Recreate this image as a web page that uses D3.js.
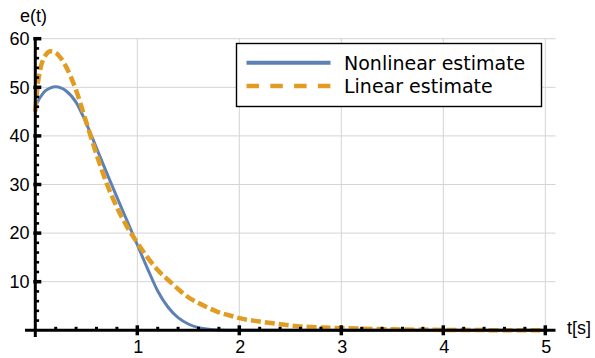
<!DOCTYPE html>
<html>
<head>
<meta charset="utf-8">
<script src="https://cdn.jsdelivr.net/npm/d3@7"></script>
<style>
  html, body { margin: 0; padding: 0; background: #fff; }
  svg { display: block; }
</style>
</head>
<body>
<svg id="chart" width="595" height="358"></svg>
<script>
// Time samples (s) and estimation error e(t) for each estimator
const nonlinearT = [0, 0.05, 0.1, 0.15, 0.2, 0.25, 0.3, 0.4, 0.5, 0.6, 0.7, 0.8, 0.9, 1.0, 1.1, 1.2, 1.3, 1.4, 1.5, 1.6, 1.7, 1.8, 1.9, 2.0, 3.0, 4.0, 5.0];
const nonlinearE = [46.0, 48.0, 49.3, 49.9, 50.1, 49.9, 49.3, 46.9, 42.6, 37.5, 32.4, 27.4, 22.5, 17.6, 12.7, 8.1, 4.8, 2.6, 1.3, 0.55, 0.2, 0.06, 0.02, 0, 0, 0, 0];

const linearT = [0, 0.025, 0.05, 0.1, 0.15, 0.2, 0.25, 0.3, 0.4, 0.5, 0.6, 0.7, 0.8, 0.9, 1.0, 1.1, 1.2, 1.3, 1.4, 1.5, 1.6, 1.7, 1.8, 1.9, 2.0, 2.2, 2.4, 2.6, 2.8, 3.0, 3.5, 4.0, 4.5, 5.0];
const linearE = [45.0, 50.8, 53.8, 56.6, 57.4, 57.1, 56.0, 54.3, 49.4, 42.8, 36.2, 30.2, 25.3, 21.3, 18.0, 15.0, 12.4, 10.4, 8.5, 6.8, 5.6, 4.6, 3.7, 3.1, 2.5, 1.8, 1.25, 0.8, 0.6, 0.45, 0.2, 0.08, 0.03, 0.01];

const xTicks = [1, 2, 3, 4, 5];
const yTicks = [10, 20, 30, 40, 50, 60];
const seriesNames = ["Nonlinear estimate", "Linear estimate"];

const blue = "#5e81b5", orange = "#e19c24";

const svg = d3.select("#chart");

const x = d3.scaleLinear().domain([0, 5.1]).range([35.3, 555.5]);
const y = d3.scaleLinear().domain([0, 60]).range([330.3, 38.7]);

// grid
const grid = svg.append("g").attr("stroke", "#d4d4d4").attr("stroke-width", 1);
grid.selectAll("line.v").data(xTicks).join("line")
  .attr("x1", d => x(d)).attr("x2", d => x(d))
  .attr("y1", y(60)).attr("y2", y(0));
grid.selectAll("line.h").data(yTicks).join("line")
  .attr("x1", x(0)).attr("x2", x(5.1))
  .attr("y1", d => y(d)).attr("y2", d => y(d));

// curves
const line = d3.line().curve(d3.curveMonotoneX);
const nonPts = nonlinearT.map((t, i) => [x(t), y(nonlinearE[i])]);
const linPts = linearT.map((t, i) => [x(t), y(linearE[i])]);

svg.append("path").attr("d", line(nonPts))
  .attr("fill", "none").attr("stroke", blue).attr("stroke-width", 3);
svg.append("path").attr("d", line(linPts))
  .attr("fill", "none").attr("stroke", orange).attr("stroke-width", 4.5)
  .attr("stroke-dasharray", "10,4");

// axes
const ax = svg.append("g").attr("stroke", "#000");
ax.append("line").attr("x1", 25).attr("x2", x(5.1)).attr("y1", y(0)).attr("y2", y(0)).attr("stroke-width", 3);
ax.append("line").attr("x1", x(0)).attr("x2", x(0)).attr("y1", 37).attr("y2", 337).attr("stroke-width", 3);

// x ticks
const xMinor = d3.range(1, 26).map(i => i * 0.2).filter(v => Math.abs(v - Math.round(v)) > 1e-6);
ax.selectAll("line.xmaj").data(xTicks).join("line")
  .attr("x1", d => x(d)).attr("x2", d => x(d))
  .attr("y1", y(0) - 5).attr("y2", y(0) + 5).attr("stroke-width", 3.5);
ax.selectAll("line.xmin").data(xMinor).join("line")
  .attr("x1", d => x(d)).attr("x2", d => x(d))
  .attr("y1", y(0) - 3.5).attr("y2", y(0)).attr("stroke-width", 3);

// y ticks
const yMinor = d3.range(1, 30).map(i => i * 2).filter(v => v % 10 !== 0);
ax.selectAll("line.ymaj").data(yTicks).join("line")
  .attr("x1", x(0) - 2).attr("x2", x(0) + 6)
  .attr("y1", d => y(d)).attr("y2", d => y(d)).attr("stroke-width", 3.5);
ax.selectAll("line.ymin").data(yMinor).join("line")
  .attr("x1", x(0)).attr("x2", x(0) + 3.8)
  .attr("y1", d => y(d)).attr("y2", d => y(d)).attr("stroke-width", 2.6);

// tick labels
const labelFont = "'Liberation Sans', Arial, sans-serif";
svg.append("g").selectAll("text").data(xTicks).join("text")
  .attr("x", d => x(d) + 1).attr("y", 353)
  .attr("text-anchor", "middle")
  .attr("font-family", labelFont).attr("font-size", 18).attr("fill", "#000")
  .text(d => d);
svg.append("g").selectAll("text").data(yTicks).join("text")
  .attr("x", 29.5).attr("y", d => y(d) + 6.3)
  .attr("text-anchor", "end")
  .attr("font-family", labelFont).attr("font-size", 18).attr("fill", "#000")
  .text(d => d);

// axis titles
svg.append("text").attr("x", 20).attr("y", 22)
  .attr("font-family", labelFont).attr("font-size", 18).attr("fill", "#000").text("e(t)");
svg.append("text").attr("x", 567).attr("y", 334)
  .attr("font-family", labelFont).attr("font-size", 18).attr("fill", "#000").text("t[s]");

// legend
const lg = svg.append("g");
lg.append("rect").attr("x", 236.5).attr("y", 43.5).attr("width", 305).attr("height", 63)
  .attr("fill", "#fff").attr("stroke", "#000").attr("stroke-width", 1.4);
lg.append("line").attr("x1", 246.5).attr("x2", 330.5).attr("y1", 62.7).attr("y2", 62.7)
  .attr("stroke", blue).attr("stroke-width", 4);
lg.append("line").attr("x1", 246.5).attr("x2", 330.5).attr("y1", 86).attr("y2", 86)
  .attr("stroke", orange).attr("stroke-width", 4.5).attr("stroke-dasharray", "12.5,11.3");
lg.selectAll("text").data(seriesNames).join("text")
  .attr("x", 344).attr("y", (d, i) => 70.3 + i * 23)
  .attr("font-family", "'DejaVu Sans', sans-serif").attr("font-size", 19).attr("fill", "#000")
  .text(d => d);
</script>
</body>
</html>
